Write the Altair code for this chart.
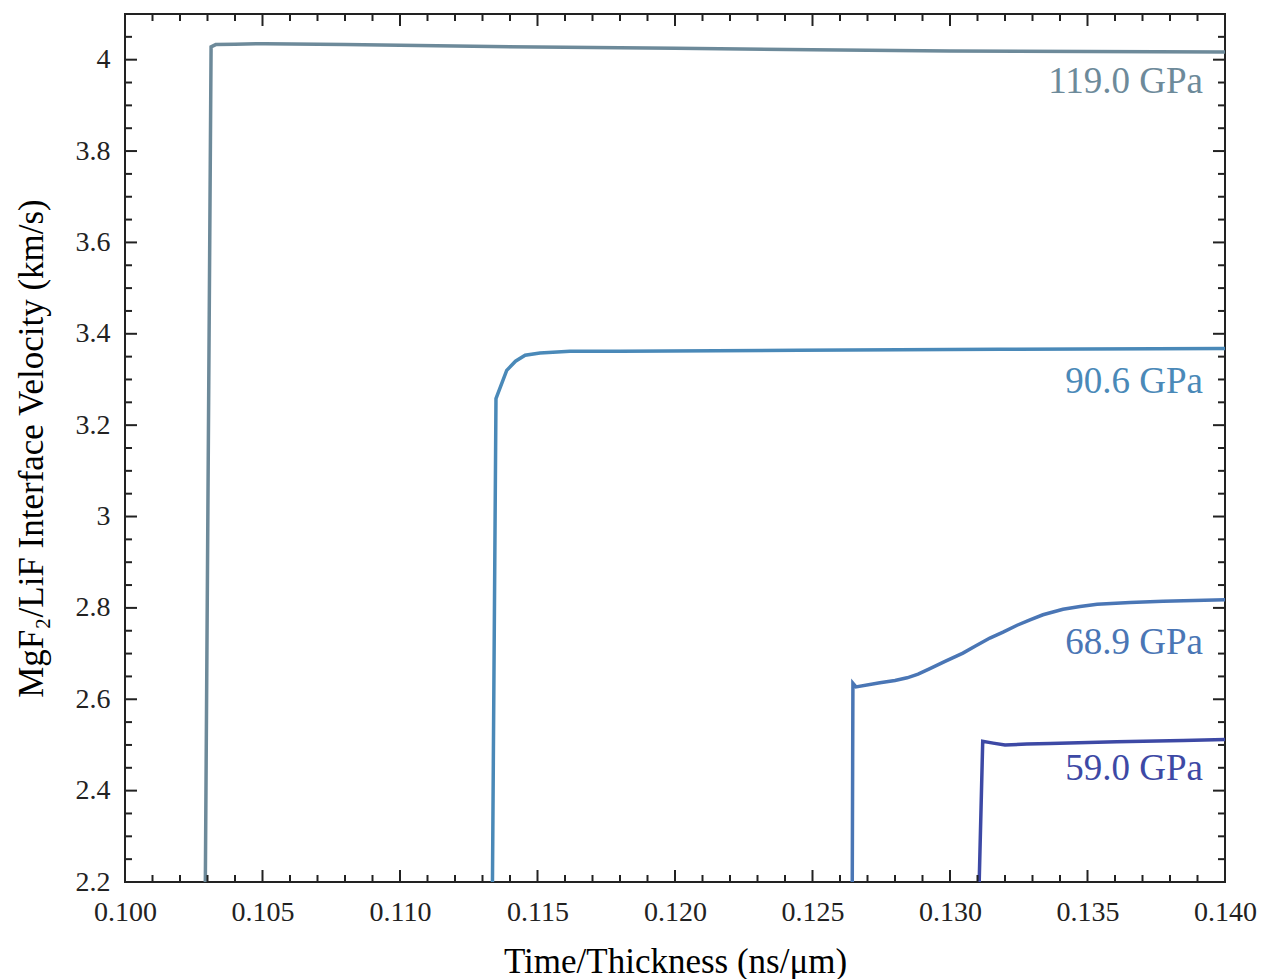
import altair as alt
import pandas as pd

# ---- data ----
series_names = ["119.0 GPa", "90.6 GPa", "68.9 GPa", "59.0 GPa"]
series_colors = ["#6d8a9a", "#4a89b8", "#4a76b5", "#3d49a5"]

x119 = [0.10291, 0.10313, 0.10330, 0.1040, 0.1051, 0.1080, 0.1120, 0.1160, 0.1200, 0.1250, 0.1300, 0.1350, 0.1400]
y119 = [2.1, 4.028, 4.033, 4.034, 4.035, 4.033, 4.030, 4.027, 4.025, 4.022, 4.019, 4.018, 4.017]

x90 = [0.11335, 0.11349, 0.11388, 0.11420, 0.11455, 0.11509, 0.11618, 0.1180, 0.1245, 0.1318, 0.1400]
y90 = [2.1, 3.258, 3.320, 3.340, 3.353, 3.358, 3.362, 3.362, 3.364, 3.366, 3.368]

x68 = [0.12644, 0.12647, 0.12658, 0.12745, 0.12800, 0.12844, 0.12884, 0.12927, 0.12982, 0.13047,
       0.13091, 0.13145, 0.13193, 0.13244, 0.13291, 0.13338, 0.13411, 0.13473, 0.13535, 0.13655,
       0.13775, 0.1400]
y68 = [2.1, 2.635, 2.627, 2.636, 2.641, 2.647, 2.655, 2.667, 2.683, 2.701,
       2.716, 2.734, 2.747, 2.762, 2.774, 2.785, 2.797, 2.803, 2.808, 2.812,
       2.8145, 2.818]

x59 = [0.13102, 0.13119, 0.13157, 0.13200, 0.13279, 0.13364, 0.13606, 0.13848, 0.1400]
y59 = [2.1, 2.508, 2.504, 2.500, 2.502, 2.503, 2.507, 2.510, 2.512]

label_x = [0.1392, 0.1392, 0.1392, 0.1392]
label_y = [3.926, 3.2695, 2.700, 2.423]

x_major = [0.100, 0.105, 0.110, 0.115, 0.120, 0.125, 0.130, 0.135, 0.140]
x_minor = [0.101, 0.102, 0.103, 0.104, 0.106, 0.107, 0.108, 0.109,
           0.111, 0.112, 0.113, 0.114, 0.116, 0.117, 0.118, 0.119,
           0.121, 0.122, 0.123, 0.124, 0.126, 0.127, 0.128, 0.129,
           0.131, 0.132, 0.133, 0.134, 0.136, 0.137, 0.138, 0.139]
y_major = [2.2, 2.4, 2.6, 2.8, 3.0, 3.2, 3.4, 3.6, 3.8, 4.0]
y_minor = [2.25, 2.3, 2.35, 2.45, 2.5, 2.55, 2.65, 2.7, 2.75, 2.85, 2.9, 2.95,
           3.05, 3.1, 3.15, 3.25, 3.3, 3.35, 3.45, 3.5, 3.55, 3.65, 3.7, 3.75,
           3.85, 3.9, 3.95, 4.05]

# ---- build tables ----
rows = []
for name, xs, ys in zip(series_names, [x119, x90, x68, x59], [y119, y90, y68, y59]):
    for i, (a, b) in enumerate(zip(xs, ys)):
        rows.append({"series": name, "t": a, "v": b, "i": i})
df = pd.DataFrame(rows)
lab = pd.DataFrame({"series": series_names, "t": label_x, "v": label_y})

W, H = 1100, 868
FONT = "Liberation Serif"
AX = "#222222"
LFS = 28

xscale = alt.Scale(domain=[0.100, 0.140], nice=False, zero=False)
yscale = alt.Scale(domain=[2.2, 4.1], nice=False, zero=False)
color = alt.Color("series:N", scale=alt.Scale(domain=series_names, range=series_colors), legend=None)

common = dict(ticks=False, domain=False, grid=False, labelFlush=False, labelOverlap=False,
              labelFont=FONT, labelFontSize=LFS, labelColor=AX,
              titleFont=FONT, titleFontSize=35, titleFontWeight="normal", titleColor="#000000",
              titleBaseline="alphabetic")
xaxis = alt.Axis(values=x_major, format=".3f", title="Time/Thickness (ns/μm)",
                 labelPadding=16, titleY=90, **common)
yaxis = alt.Axis(values=y_major, format="~g", title="MgF₂/LiF Interface Velocity (km/s)",
                 labelPadding=15, titleX=-83, **common)

lines = alt.Chart(df).mark_line(strokeWidth=3.5, clip=True).encode(
    x=alt.X("t:Q", scale=xscale, axis=xaxis),
    y=alt.Y("v:Q", scale=yscale, axis=yaxis),
    color=color,
    order="i:Q",
)

texts = alt.Chart(lab).mark_text(font=FONT, fontSize=37, align="right", baseline="alphabetic").encode(
    x=alt.X("t:Q", scale=xscale, axis=xaxis),
    y=alt.Y("v:Q", scale=yscale, axis=yaxis),
    text="series:N",
    color=color,
)


def xticks(vals, length):
    d = pd.DataFrame({"t": vals})
    base = alt.Chart(d).mark_rule(color=AX, strokeWidth=2)
    bottom = base.encode(x=alt.X("t:Q", scale=xscale, axis=xaxis), y=alt.value(H), y2=alt.value(H - length))
    top = base.encode(x=alt.X("t:Q", scale=xscale, axis=xaxis), y=alt.value(0), y2=alt.value(length))
    return [bottom, top]


def yticks(vals, length):
    d = pd.DataFrame({"v": vals})
    base = alt.Chart(d).mark_rule(color=AX, strokeWidth=2)
    left = base.encode(y=alt.Y("v:Q", scale=yscale, axis=yaxis), x=alt.value(0), x2=alt.value(length))
    right = base.encode(y=alt.Y("v:Q", scale=yscale, axis=yaxis), x=alt.value(W), x2=alt.value(W - length))
    return [left, right]


tick_layers = xticks(x_major, 12) + xticks(x_minor, 7) + yticks(y_major, 12) + yticks(y_minor, 7)

chart = alt.layer(lines, texts, *tick_layers).properties(
    width=W, height=H,
    autosize=alt.AutoSizeParams(type="none"),
    padding={"left": 125, "top": 14, "right": 40, "bottom": 97},
    background="white",
).configure(
    font=FONT,
    style={
        "guide-label": {"font": FONT, "fontSize": LFS, "fill": AX},
        "guide-title": {"font": FONT, "fontSize": 35, "fontWeight": "normal", "fill": "#000000"},
    },
).configure_view(
    stroke=AX, strokeWidth=2
)

chart.save("out.html", embed_options={"renderer": "svg", "actions": False})
